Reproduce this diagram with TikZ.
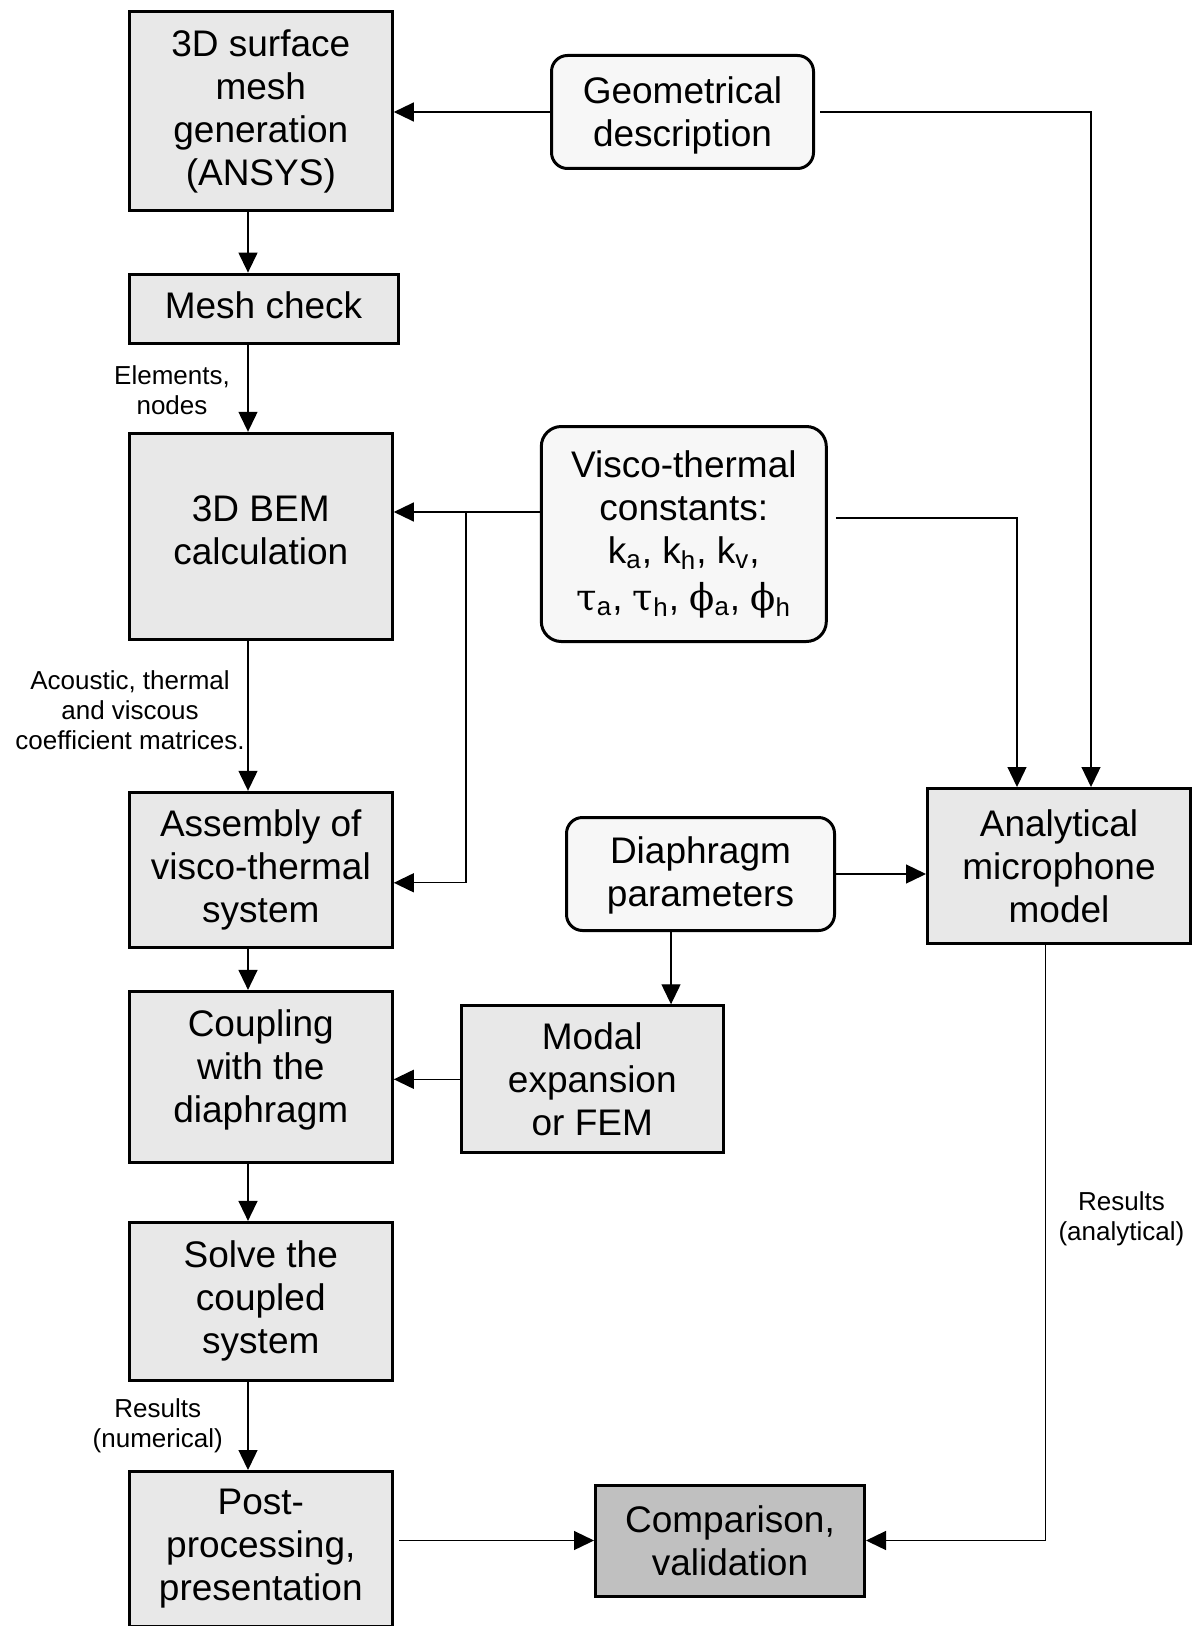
\documentclass[tikz,border=0pt]{standalone}
\usepackage{fontspec}
\setmainfont{Liberation Sans}
\newfontfamily\grk{DejaVu Serif}
\usetikzlibrary{arrows.meta}
\definecolor{procfill}{HTML}{E8E8E8}
\definecolor{inpfill}{HTML}{F7F7F7}
\definecolor{endfill}{HTML}{C0C0C0}
\tikzstyle{proc}=[rectangle,draw,line width=1.5pt,fill=procfill,align=center,inner sep=0pt,font=\fontsize{18.5}{21.5}\selectfont]
\tikzstyle{inp}=[proc,rounded corners=8pt,fill=inpfill]
\tikzstyle{note}=[align=center,inner sep=0pt,font=\fontsize{13}{15}\selectfont]
\tikzstyle{arr}=[line width=0.65pt,-{Triangle[length=10pt,width=9.5pt]}]
% lift the text lines inside a box without moving the box
\newcommand{\liftlines}[2]{\raisebox{#1}[\height][\depth]{\begin{tabular}{@{}c@{}}#2\end{tabular}}}

\begin{document}
\begin{tikzpicture}[x=0.5pt,y=-0.5pt]
        \useasboundingbox (0,0) rectangle (1194,1626);
        % main chain on the left
        \node[proc,minimum width=131.5pt,minimum height=99.5pt] (gen) at (260.8,111.5) {3D surface\\mesh\\generation\\(ANSYS)};
        \node[proc,minimum width=134.5pt,minimum height=34.5pt] (meshchk) at (263.5,308.6) {\liftlines{-0.6pt}{Mesh check}};
        \node[proc,minimum width=131.5pt,minimum height=103pt] (bem) at (260.8,536.3) {\liftlines{0.9pt}{3D BEM\\calculation}};
        \node[proc,minimum width=131.5pt,minimum height=77.5pt] (assem) at (260.8,869.8) {Assembly of\\visco-thermal\\system};
        \node[proc,minimum width=131.5pt,minimum height=85.5pt] (coupl) at (260.8,1076.9) {\liftlines{3pt}{Coupling\\with the\\diaphragm}};
        \node[proc,minimum width=131.5pt,minimum height=79pt] (solve) at (260.8,1301.4) {Solve the\\coupled\\system};
        \node[proc,minimum width=131.5pt,minimum height=77.5pt] (post) at (260.8,1549) {Post-\\processing,\\presentation};
        % inputs and the analytical branch
        \node[inp,minimum width=131pt,minimum height=56.5pt] (geo) at (682.5,112) {\liftlines{-2pt}{Geometrical\\description}};
        \node[inp,rounded corners=10pt,minimum width=142.5pt,minimum height=107.5pt] (visco) at (683.8,534)
            {Visco-thermal\\constants:\\k\textsubscript{a}, k\textsubscript{h}, k\textsubscript{v},\\[2pt]
             {\grk τ}\textsubscript{a}, {\grk τ}\textsubscript{h}, {\grk ϕ}\textsubscript{a}, {\grk ϕ}\textsubscript{h}};
        \node[inp,minimum width=134pt,minimum height=56.5pt] (diaph) at (700.5,874) {\liftlines{-1pt}{Diaphragm\\parameters}};
        \node[proc,minimum width=131pt,minimum height=73.5pt] (modal) at (592.3,1079.3) {Modal\\expansion\\or FEM};
        \node[proc,minimum width=131.5pt,minimum height=77.5pt] (anal) at (1059,866) {Analytical\\microphone\\model};
        \node[proc,fill=endfill,minimum width=134.5pt,minimum height=55.5pt] (comp) at (730,1540.5) {Comparison,\\validation};
        % labels on the arrows
        \node[note] (elem) at (172,390) {Elements,\\nodes};
        \node[note] (coef) at (130,710.6) {Acoustic, thermal\\and viscous\\coefficient matrices.};
        \node[note] (resnum) at (157.7,1426) {Results\\(numerical)};
        \node[note] (resana) at (1121.4,1218.5) {Results\\(analytical)};

        \coordinate (spine) at (248,0);
        \coordinate (split) at (466,512);
        \foreach \a/\b in {gen/meshchk,meshchk/bem,bem/assem,assem/coupl,coupl/solve,solve/post}
            \draw[arr] (\a.south -| spine) -- (\b.north -| spine);
        \draw[arr] (geo.west) -- (geo.west -| gen.east);
        \draw[arr,shorten <=2.5pt] (geo.east) -| ([xshift=16pt]anal.north);
        \draw[arr] ([yshift=11pt]visco.west) -- ([yshift=11pt]visco.west -| bem.east);
        \draw[arr] (split) |- ([yshift=-6.5pt]assem.east);
        \draw[arr,shorten <=4pt] ([yshift=8pt]visco.east) -| ([xshift=-21pt]anal.north);
        \draw[arr] (diaph.east) -- (diaph.east -| anal.west);
        \draw[arr] ([xshift=-14.75pt]diaph.south) coordinate (dd) -- (dd |- modal.north);
        \draw[arr] (modal.west) -- (modal.west -| coupl.east);
        \draw[arr,shorten <=2.5pt] (comp.west -| post.east) -- (comp.west);
        \draw[arr] ([xshift=-6.65pt]anal.south) |- (comp.east);
\end{tikzpicture}
\end{document}
